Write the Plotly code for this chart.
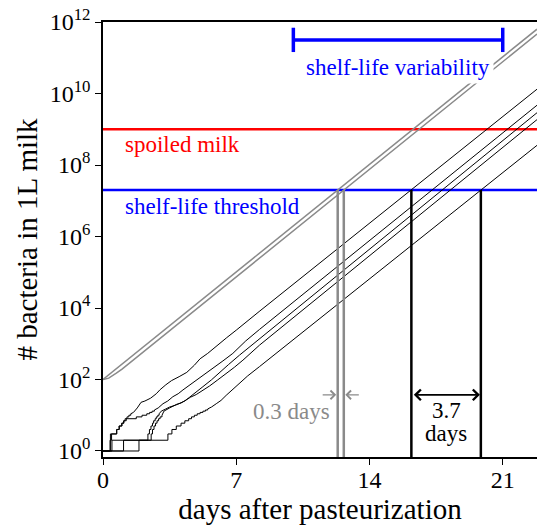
import plotly.graph_objects as go

# ---------------- data ----------------
x_max = 22.8
y_log_min = -0.168
y_log_max = 12

spoiled_level = 1e9
threshold_level = 2e7

# deterministic-looking gray trajectories (start with 100 bacteria)
g1_days = [0, 22.8]
g1_counts = [100, 6.3e11]
g2_days = [0, 0.3, 0.7, 1.0, 22.8]
g2_counts = [100, 109, 150, 195, 4.6e11]
gray_cross_days = [12.33, 12.65]

# stochastic black trajectories (start with 1 bacterium)
l1_step_days = [0, 0.38, 0.39, 0.72, 0.84, 0.98, 1.08, 1.16, 1.26, 1.36, 1.46]
l1_step_counts = [1, 2, 3, 4, 5, 6, 7, 8, 9, 10, 11]
l1_days = [1.6, 1.8, 2.0, 2.2, 2.5, 2.8, 3.0, 3.3, 3.6, 4.0, 4.4, 4.8, 5.1, 5.5, 6.0, 6.5, 7.0, 7.6, 8.2, 22.8]
l1_counts = [12, 16, 23, 25, 30, 40, 52, 71, 93, 120, 158, 251, 380, 537, 912, 1480, 2400, 4370, 7940, 1.32e10]

l2_step_days = [0, 0.38, 0.45, 0.72, 0.86, 1.0, 1.1, 1.22, 1.75, 2.05, 2.3, 2.45, 2.58, 2.7]
l2_step_counts = [1, 2, 3, 4, 5, 6, 7, 8, 9, 10, 11, 12, 13, 14]
l2_days = [2.9, 3.15, 3.4, 3.67, 3.95, 4.2, 4.55, 4.9, 5.3, 5.77, 6.3, 6.82, 7.5, 8.22, 22.8]
l2_counts = [16, 21, 25, 33, 40, 51, 69, 95, 132, 204, 331, 537, 1200, 2510, 4.7e9]

l3_step_days = [0, 1.08, 2.36, 2.44, 2.52, 2.6, 2.66, 2.74, 2.8, 2.88, 2.95]
l3_step_counts = [1, 2, 3, 4, 5, 6, 7, 8, 9, 10, 11]
l3_days = [3.06, 3.3, 3.5, 3.8, 4.02, 4.3, 4.55, 4.9, 5.25, 5.7, 6.12, 6.6, 7.17, 7.7, 8.22, 22.8]
l3_counts = [13, 15, 17, 19, 21, 25, 32, 44, 63, 98, 158, 263, 479, 813, 1410, 2.9e9]

l4_step_days = [0, 1.89, 2.53, 2.6, 2.68, 2.76, 2.84, 2.92, 3.0, 3.1]
l4_step_counts = [1, 2, 3, 4, 5, 6, 7, 8, 9, 10]
l4_days = [3.2, 3.5, 3.85, 4.1, 4.37, 4.6, 4.9, 5.25, 5.6, 6.0, 6.47, 6.9, 7.35, 7.8, 8.22, 22.8]
l4_counts = [13, 16, 20, 22, 27, 32, 38, 49, 66, 95, 145, 219, 347, 575, 912, 1.86e9]

l5_step_days = [0, 0.47, 3.41, 3.62, 3.85, 4.1, 4.3, 4.5, 4.65, 4.8, 4.95, 5.1, 5.25, 5.38, 5.5]
l5_step_counts = [1, 2, 3, 4, 5, 6, 7, 8, 9, 10, 11, 12, 13, 14, 15]
l5_days = [5.7, 5.95, 6.2, 6.47, 6.8, 7.17, 7.6, 8.22, 22.8]
l5_counts = [17, 21, 26, 36, 52, 80, 126, 229, 3.55e8]

black_cross_days = [16.2, 19.85]

variability_days = [10, 21]
variability_level = 3.16e11

x_tick_vals = [0, 7, 14, 21]
y_tick_exps = [0, 2, 4, 6, 8, 10, 12]

FONT = "Liberation Serif"
GRAY = "#8a8a8a"


def step_path(step_days, step_counts, days, counts):
    xs = [step_days[0]]
    ys = [step_counts[0]]
    for i in range(1, len(step_days)):
        xs += [step_days[i], step_days[i]]
        ys += [step_counts[i - 1], step_counts[i]]
    return xs + list(days), ys + list(counts)


fig = go.Figure()

y_bottom = 10 ** (y_log_min - 0.5)

# horizontal levels
fig.add_trace(go.Scatter(x=[-1, x_max + 1], y=[spoiled_level] * 2, mode="lines",
                         line=dict(color="#ff0000", width=2.5), hoverinfo="skip"))
fig.add_trace(go.Scatter(x=[-1, x_max + 1], y=[threshold_level] * 2, mode="lines",
                         line=dict(color="#0000ff", width=2.5), hoverinfo="skip"))

# gray trajectories
for d, c in [(g1_days, g1_counts), (g2_days, g2_counts)]:
    fig.add_trace(go.Scatter(x=d, y=c, mode="lines",
                             line=dict(color=GRAY, width=1.5), hoverinfo="skip"))

# black trajectories
for sd, sc, d, c in [(l1_step_days, l1_step_counts, l1_days, l1_counts),
                     (l2_step_days, l2_step_counts, l2_days, l2_counts),
                     (l3_step_days, l3_step_counts, l3_days, l3_counts),
                     (l4_step_days, l4_step_counts, l4_days, l4_counts),
                     (l5_step_days, l5_step_counts, l5_days, l5_counts)]:
    xs, ys = step_path(sd, sc, d, c)
    fig.add_trace(go.Scatter(x=xs, y=ys, mode="lines",
                             line=dict(color="black", width=1), hoverinfo="skip"))

# vertical markers at threshold crossings
for xd in gray_cross_days:
    fig.add_trace(go.Scatter(x=[xd, xd], y=[y_bottom, threshold_level], mode="lines",
                             line=dict(color=GRAY, width=2.5), hoverinfo="skip"))
for xd in black_cross_days:
    fig.add_trace(go.Scatter(x=[xd, xd], y=[y_bottom, threshold_level], mode="lines",
                             line=dict(color="black", width=2.5), hoverinfo="skip"))

# variability bar
cap_lo = variability_level / 10 ** 0.34
cap_hi = variability_level * 10 ** 0.34
fig.add_trace(go.Scatter(
    x=[variability_days[0], variability_days[1], None,
       variability_days[0], variability_days[0], None,
       variability_days[1], variability_days[1]],
    y=[variability_level, variability_level, None, cap_lo, cap_hi, None, cap_lo, cap_hi],
    mode="lines", line=dict(color="#0000ff", width=3.5), hoverinfo="skip"))

arrow_y = 1.57  # log10 units for annotations on log axis
annotations = [
    dict(x=1.03, y=8.56, text="spoiled milk", showarrow=False, xanchor="left", yanchor="middle",
         font=dict(family=FONT, size=23, color="#ff0000")),
    dict(x=1.03, y=6.83, text="shelf-life threshold", showarrow=False, xanchor="left", yanchor="middle",
         font=dict(family=FONT, size=23, color="#0000ff")),
    dict(x=sum(variability_days) / 2, y=10.74, text="shelf-life variability", showarrow=False,
         xanchor="center", yanchor="middle", bgcolor="white", borderpad=3,
         font=dict(family=FONT, size=23, color="#0000ff")),
    dict(x=12.05, y=1.10, text="0.3 days", showarrow=False, xanchor="right", yanchor="middle",
         font=dict(family=FONT, size=23, color=GRAY)),
    dict(x=sum(black_cross_days) / 2, y=1.12, text="3.7", showarrow=False, xanchor="center",
         yanchor="middle", font=dict(family=FONT, size=23, color="black")),
    dict(x=sum(black_cross_days) / 2, y=0.48, text="days", showarrow=False, xanchor="center",
         yanchor="middle", font=dict(family=FONT, size=23, color="black")),
    # gray arrows pointing at the gray lines
    dict(x=gray_cross_days[0] - 0.08, y=arrow_y, ax=-15, ay=0, showarrow=True,
         arrowhead=4, arrowsize=1.3, arrowwidth=1.3, arrowcolor=GRAY, text=""),
    dict(x=gray_cross_days[1] + 0.08, y=arrow_y, ax=15, ay=0, showarrow=True,
         arrowhead=4, arrowsize=1.3, arrowwidth=1.3, arrowcolor=GRAY, text=""),
    # black double arrow
    dict(x=black_cross_days[1] - 0.05, y=arrow_y, ax=black_cross_days[0] + 0.05, ay=arrow_y,
         axref="x", ayref="y", showarrow=True, arrowhead=4, startarrowhead=4,
         arrowside="end+start", arrowsize=1.3, startarrowsize=1.3, arrowwidth=1.6,
         arrowcolor="black", text=""),
]

fig.update_layout(
    width=537, height=528,
    margin=dict(l=103, r=0, t=22, b=71),
    paper_bgcolor="white", plot_bgcolor="white",
    showlegend=False,
    font=dict(family=FONT, color="black"),
    annotations=annotations,
    xaxis=dict(
        range=[0, x_max], tickvals=x_tick_vals, ticktext=[str(v) for v in x_tick_vals],
        ticks="outside", ticklen=6, tickwidth=1.2, tickcolor="black",
        showline=True, linecolor="black", linewidth=1.5, mirror=True,
        showgrid=False, zeroline=False, automargin=False,
        ticklabelstandoff=-6,
        tickfont=dict(family=FONT, size=24),
        title=dict(text="days after pasteurization", font=dict(family=FONT, size=29), standoff=2),
    ),
    yaxis=dict(
        type="log", range=[y_log_min, y_log_max],
        tickvals=[10 ** e for e in y_tick_exps],
        ticktext=["10<sup>%d</sup>" % e for e in y_tick_exps],
        ticks="outside", ticklen=6, tickwidth=1.2, tickcolor="black",
        showline=True, linecolor="black", linewidth=1.5,
        showgrid=False, zeroline=False, automargin=False,
        tickfont=dict(family=FONT, size=24),
        title=dict(text="# bacteria in 1L milk", font=dict(family=FONT, size=29), standoff=4),
    ),
)

fig.write_html("out.html", config={"displayModeBar": False},
               post_script="document.body.style.margin='0px';")
